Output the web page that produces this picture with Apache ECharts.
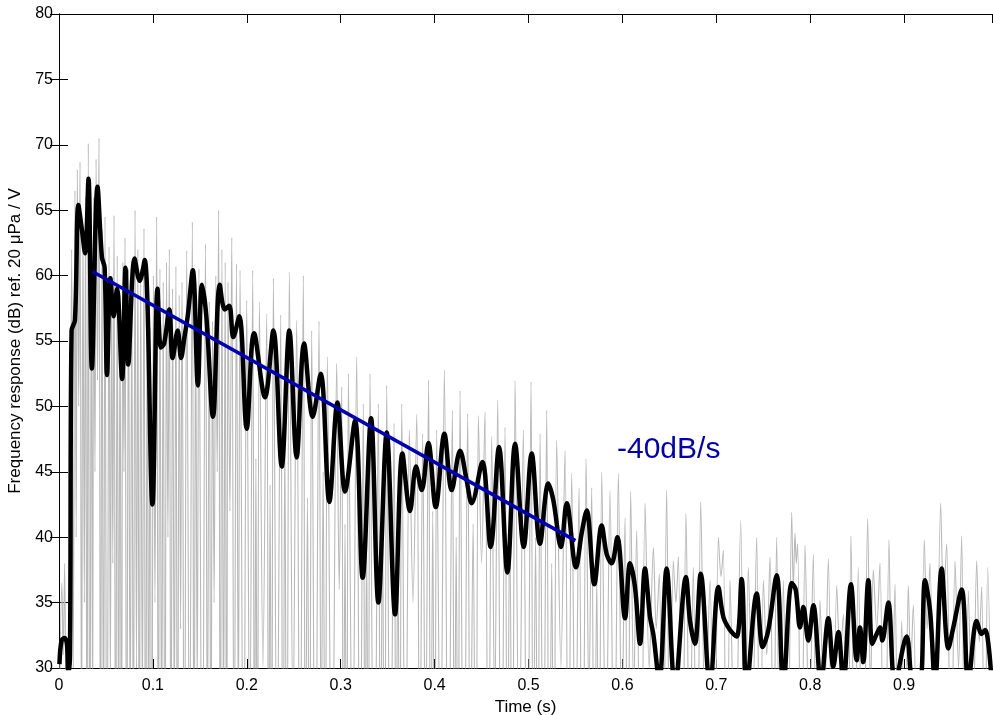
<!DOCTYPE html>
<html>
<head>
<meta charset="utf-8">
<title>Decay of frequency response</title>
<script src="https://cdn.jsdelivr.net/npm/echarts@6/dist/echarts.min.js"></script>
<style>
  html, body { margin: 0; padding: 0; background: #ffffff; }
  #chart { width: 993px; height: 715px; }
</style>
</head>
<body>
<div id="chart"></div>
<script>
// Raw (unsmoothed) response level over time, in dB
const grayTime = [
  0.000, 0.003, 0.0045, 0.006, 0.0085, 0.0105, 0.0135, 0.0152, 0.017, 0.0183,
  0.0195, 0.021, 0.0224, 0.024, 0.0255, 0.027, 0.0283, 0.0298, 0.0312, 0.0328,
  0.0345, 0.0358, 0.037, 0.0383, 0.0395, 0.041, 0.0426, 0.0442, 0.0458, 0.0474,
  0.049, 0.051, 0.0533, 0.0547, 0.056, 0.0573, 0.0586, 0.0603, 0.062, 0.0635,
  0.065, 0.0665, 0.068, 0.0692, 0.0703, 0.072, 0.074, 0.0758, 0.0775, 0.0792,
  0.081, 0.0825, 0.084, 0.0855, 0.087, 0.0888, 0.0905, 0.0922, 0.094, 0.0955,
  0.097, 0.0988, 0.1005, 0.1022, 0.104, 0.1058, 0.1075, 0.1093, 0.111, 0.1128,
  0.1145, 0.116, 0.1175, 0.1192, 0.121, 0.1228, 0.1245, 0.1262, 0.128, 0.1295,
  0.131, 0.1335, 0.136, 0.139, 0.142, 0.1438, 0.1455, 0.1472, 0.149, 0.1525,
  0.156, 0.158, 0.160, 0.1618, 0.1635, 0.1652, 0.167, 0.1685, 0.170, 0.1718,
  0.1735, 0.1752, 0.177, 0.1785, 0.180, 0.182, 0.184, 0.1865, 0.189, 0.191,
  0.1928, 0.1965, 0.1999, 0.2031,
  0.2063, 0.2082, 0.2097, 0.2112, 0.2134, 0.2172, 0.2212, 0.2232, 0.2248, 0.2264,
  0.2283, 0.2322, 0.2361, 0.2385, 0.2405, 0.2425, 0.2453, 0.2492, 0.2531, 0.2566,
  0.2602, 0.2624, 0.2646, 0.2668, 0.2691, 0.2730, 0.2769, 0.2792, 0.2813, 0.2835,
  0.2858, 0.2907, 0.2957, 0.2984, 0.3011, 0.3028, 0.3046, 0.3064, 0.3082, 0.3126,
  0.317, 0.3205, 0.3241, 0.3258, 0.3276, 0.3294, 0.3312, 0.3356, 0.3401, 0.3423,
  0.3445, 0.3467, 0.349, 0.3529, 0.3568, 0.3589, 0.3609, 0.3629, 0.365, 0.369,
  0.3731, 0.377, 0.381, 0.3842, 0.3873, 0.3903,
  0.3936, 0.3958, 0.398, 0.4001, 0.4022, 0.4063, 0.4104, 0.4146, 0.4189, 0.421,
  0.423, 0.425, 0.4271, 0.4311, 0.4352, 0.438, 0.441, 0.444, 0.4466, 0.450,
  0.4537, 0.4572, 0.4608, 0.464, 0.4672, 0.471, 0.4750, 0.4775, 0.480, 0.4828,
  0.4857, 0.490, 0.4945, 0.4986, 0.5027, 0.505, 0.5075, 0.510, 0.5123, 0.5158,
  0.5194, 0.522, 0.5247, 0.527, 0.5300, 0.5345, 0.5389, 0.5425, 0.5460, 0.550,
  0.5538, 0.5575, 0.5613, 0.5643, 0.5673, 0.570, 0.5727, 0.575, 0.5780, 0.5824,
  0.5868, 0.5912,
  0.5957, 0.5993, 0.6028, 0.6058, 0.6088, 0.612, 0.6152, 0.6196, 0.6241, 0.6285,
  0.633, 0.636, 0.6393, 0.643, 0.6471, 0.6506, 0.6542, 0.657, 0.6596, 0.6636,
  0.6677, 0.6716, 0.6755, 0.6795, 0.6834, 0.6883, 0.6933, 0.6978, 0.7022, 0.705,
  0.7075, 0.711, 0.7146, 0.720, 0.7260, 0.730, 0.7341, 0.7385, 0.743, 0.7466,
  0.7501, 0.7537, 0.7572, 0.7608, 0.7643, 0.7678, 0.7714, 0.7758, 0.7803, 0.782,
  0.7838, 0.7852, 0.7866, 0.7905, 0.7945, 0.799, 0.8033, 0.807, 0.8104, 0.815,
  0.8193, 0.8238, 0.8282, 0.8318, 0.8353, 0.8395, 0.8434, 0.8473, 0.8512, 0.8562,
  0.8612, 0.8642, 0.8672, 0.8708, 0.8743, 0.879, 0.8839, 0.8871, 0.8903, 0.894,
  0.8974, 0.901, 0.9045, 0.907, 0.9098, 0.9156, 0.9215, 0.9245, 0.9276, 0.933,
  0.9389, 0.942, 0.9453, 0.950, 0.9542, 0.958, 0.9613, 0.965, 0.9684, 0.973,
  0.9773, 0.980, 0.9826, 0.9858, 0.989, 0.9936
];
const grayLevel = [
  24, 36.5, 31, 38, 18, 20, 62, 30, 66.5, 40,
  68.1, 50, 68.7, 22, 64, 35, 66, 18, 70.1, 15,
  62.5, 25, 66, 45, 68.9, 52, 70.5, 16, 63.5, 20,
  64.5, 12, 62.2, 28, 60, 38, 64.6, 14, 61.5, 22,
  58.5, 17, 61, 45, 62.9, 15, 60.5, 24, 59, 20,
  65, 30, 62, 13, 60.5, 26, 63.6, 15, 58.5, 20,
  56, 10, 60, 35, 64.5, 18, 60.5, 22, 59.5, 14,
  61, 40, 62, 17, 59, 25, 60.7, 12, 58.5, 33,
  59.5, 16, 61.9, 20, 64.1, 15, 58.5, 28, 60.5, 14,
  62.4, 22, 58, 18, 56.5, 35, 60, 45, 65, 16,
  62, 24, 61, 13, 59.5, 42, 62.9, 18, 60.9, 25,
  60.4, 15, 58.1, 22,
  60.4, 18, 46, 15, 58.0, 30, 57.1, 16, 44, 12,
  59.8, 20, 57.0, 14, 48, 11, 60.3, 25, 56.6, 16,
  60.0, 18, 43, 15, 55.8, 13, 56.5, 22, 45, 14,
  53.8, 15, 53.3, 36, 51.5, 14, 41, 12, 52.5, 20,
  53.8, 16, 50.2, 19, 40, 14, 52.5, 11, 50.2, 17,
  42, 13, 51.6, 14, 48.7, 20, 39, 15, 50.2, 17,
  48.2, 35, 49.4, 19, 47.9, 22,
  52.0, 15, 42, 13, 48.2, 20, 52.8, 14, 49.7, 19,
  40, 13, 51.2, 12, 49.45, 18, 41, 14, 49.3, 38,
  49.6, 15, 47.7, 26, 50.5, 13, 48.4, 17, 42, 14,
  52.0, 21, 48.2, 12, 51.9, 18, 40, 15, 47.9, 17,
  49.7, 13, 38, 16, 47.4, 30, 46.6, 16, 44.9, 20,
  43.8, 13, 46.0, 27, 43.8, 15, 37, 14, 45.0, 22,
  43.6, 18,
  44.9, 24, 41.5, 15, 43.5, 28, 40.5, 12, 42.6, 30,
  39.2, 33, 37.2, 14, 43.6, 20, 38.2, 35, 38.5, 16,
  41.8, 22, 37.7, 13, 42.7, 25, 36.7, 18, 40.0, 37,
  39.0, 14, 36.7, 21, 41.3, 17, 37.7, 26, 40.0, 15,
  36.7, 31, 38.5, 22, 40.0, 13, 36.7, 19, 41.9, 36,
  40.3, 38, 39.5, 18, 39.4, 24, 38.7, 14, 35.2, 27,
  38.35, 16, 36.3, 31, 34.1, 12, 40.1, 20, 37.7, 15,
  41.4, 28, 37.5, 33, 38.0, 14, 39.8, 25, 36.4, 18,
  33.6, 22, 36.3, 30, 34.8, 13, 39.8, 33, 38.0, 17,
  42.6, 35, 39.5, 20, 38.2, 30, 40.1, 14, 35.9, 23,
  38.2, 32, 36.2, 19, 37.7, 22
];

// Smoothed response level over time, in dB
const smoothTime = [
  0.0005, 0.0027, 0.006, 0.0085, 0.0099, 0.0117, 0.0134, 0.017, 0.0206, 0.0242,
  0.0278, 0.0314, 0.035, 0.041, 0.0457, 0.0486, 0.0511, 0.0547, 0.0583, 0.0618,
  0.0672, 0.0708, 0.0737, 0.0805, 0.0859, 0.0913, 0.0995, 0.1049, 0.1085, 0.112,
  0.1174, 0.121, 0.1264, 0.13, 0.1336, 0.1371, 0.1425, 0.1479, 0.1522, 0.1569,
  0.164, 0.1712, 0.1766, 0.1813, 0.1856, 0.192, 0.1999, 0.2077, 0.2194, 0.2283,
  0.2372, 0.2453, 0.2531, 0.261, 0.2702, 0.2787, 0.2879, 0.2965, 0.3046, 0.3153,
  0.3234, 0.3323, 0.3401, 0.349, 0.3579, 0.3657, 0.3738, 0.3802, 0.3863, 0.3934,
  0.4012, 0.4104, 0.4182, 0.4271, 0.434, 0.4395, 0.4509, 0.4597, 0.4686, 0.4775,
  0.4857, 0.4949, 0.5034, 0.5122, 0.5211, 0.5265, 0.5346, 0.5407, 0.5506, 0.5566,
  0.562, 0.5701, 0.5779, 0.5833, 0.5886, 0.5946, 0.6028, 0.6081, 0.6134, 0.6188,
  0.624, 0.6294, 0.6329, 0.6393, 0.6471, 0.656, 0.6677, 0.672, 0.6773, 0.6834,
  0.6933, 0.7022, 0.7075, 0.7146, 0.7217, 0.727, 0.7323, 0.743, 0.7494, 0.7554,
  0.7643, 0.7714, 0.7803, 0.7845, 0.7891, 0.7927, 0.798, 0.8033, 0.8115, 0.8193,
  0.8246, 0.83, 0.8353, 0.8434, 0.8495, 0.853, 0.8565, 0.8619, 0.8661, 0.8708,
  0.8743, 0.8768, 0.8832, 0.8903, 0.9027, 0.9098, 0.9169, 0.9222, 0.9276, 0.9329,
  0.94, 0.9471, 0.9524, 0.9613, 0.9684, 0.9773, 0.9826, 0.9862, 0.9897, 0.9932
];
const smoothLevel = [
  30.3, 32.1, 32.3, 31.8, 29.6, 31, 55.8, 56.6, 65.4, 63.6,
  61.7, 67.4, 52.9, 66.8, 61.4, 60.6, 52.4, 59.8, 56.9, 59.0,
  52.1, 60.6, 53.2, 61.3, 59.6, 61.2, 42.5, 59.0, 54.5, 54.8,
  57.4, 53.7, 55.8, 53.7, 55.3, 56.9, 60.4, 51.6, 59.3, 56.9,
  49.2, 59.3, 57.4, 57.7, 55.3, 56.9, 48.3, 55.6, 50.7, 55.8,
  45.4, 55.8, 46.1, 54.8, 49.2, 52.5, 42.7, 50.3, 43.5, 48.9,
  36.9, 49.1, 35.0, 48.0, 34.1, 46.4, 42.0, 45.4, 43.6, 47.2,
  42.3, 47.9, 43.6, 46.6, 44.4, 42.6, 45.75, 39.25, 46.9, 37.3,
  47.15, 39.25, 46.4, 39.5, 44.1, 42.8, 39.25, 42.6, 37.7, 40.3,
  42.05, 36.4, 40.9, 38.7, 38.0, 40.0, 33.8, 38.0, 36.2, 31.85,
  37.6, 33.9, 32.6, 29.0, 37.6, 28.5, 36.95, 33.6, 31.85, 37.2,
  28.5, 36.2, 33.9, 32.9, 32.4, 36.8, 28.5, 35.7, 31.6, 32.9,
  37.1, 28.5, 36.5, 36.0, 33.1, 34.66, 32.1, 34.8, 28.8, 33.8,
  30.1, 32.75, 28.8, 36.4, 30.6, 33.1, 30.45, 36.7, 31.85, 32.6,
  33.1, 32.1, 35.0, 28.8, 32.4, 28.8, 28.8, 36.7, 34.4, 28.8,
  37.6, 31.5, 33.1, 36.0, 28.8, 33.6, 32.6, 32.9, 31.85, 29.0
];

// Linear decay fit: -40 dB per second
const fitTime = [0.036, 0.55];
const fitLevel = [60.3, 39.74];
const fitLabel = '-40dB/s';

// Axis settings
const xTicks = { min: 0, max: 0.9936, step: 0.1 };
const yTicks = { min: 30, max: 80, step: 5 };
const xTitle = 'Time (s)';
const yTitle = 'Frequency response (dB) ref. 20 \u03bcPa / V';

const zip = (ts, vs) => ts.map((t, i) => [t, vs[i]]);

const FONT = 'Liberation Sans, Arial, Helvetica, sans-serif';
const BLUE = '#0000b8';

const chart = echarts.init(document.getElementById('chart'), null, { renderer: 'canvas' });

const tickStyle = { show: true, inside: true, length: 9, lineStyle: { color: '#000', width: 1 } };
const lineStyle = { show: true, lineStyle: { color: '#000', width: 1 } };

chart.setOption({
  animation: false,
  backgroundColor: '#ffffff',
  grid: {
    left: 59, right: 1, top: 14, bottom: 47,
    containLabel: false, outerBoundsMode: 'none'
  },
  xAxis: [
    {
      type: 'value', position: 'bottom',
      min: xTicks.min, max: xTicks.max, interval: xTicks.step,
      axisLine: lineStyle, axisTick: tickStyle, splitLine: { show: false },
      axisLabel: {
        color: '#000', fontFamily: FONT, fontSize: 16, margin: 10,
        showMaxLabel: false,
        formatter: v => (Math.abs(v * 10 - Math.round(v * 10)) < 1e-6 ? String(Math.round(v * 10) / 10) : '')
      },
      name: xTitle, nameLocation: 'middle', nameGap: 26,
      nameTextStyle: { color: '#000', fontFamily: FONT, fontSize: 17 }
    },
    {
      type: 'value', position: 'top',
      min: xTicks.min, max: xTicks.max, interval: xTicks.step,
      axisLine: lineStyle, axisTick: tickStyle, axisLabel: { show: false }, splitLine: { show: false }
    }
  ],
  yAxis: [
    {
      type: 'value', position: 'left',
      min: yTicks.min, max: yTicks.max, interval: yTicks.step,
      axisLine: lineStyle, axisTick: tickStyle, splitLine: { show: false },
      axisLabel: { color: '#000', fontFamily: FONT, fontSize: 16, margin: 6 },
      name: yTitle, nameLocation: 'middle', nameGap: 29,
      nameTextStyle: { color: '#000', fontFamily: FONT, fontSize: 17 }
    },
    {
      type: 'value', position: 'right',
      min: yTicks.min, max: yTicks.max, interval: yTicks.step,
      axisLine: lineStyle, axisTick: tickStyle, axisLabel: { show: false }, splitLine: { show: false }
    }
  ],
  series: [
    {
      name: 'raw', type: 'line', data: zip(grayTime, grayLevel),
      showSymbol: false, smooth: 0.3, clip: true,
      lineStyle: { color: '#b8b8b8', width: 1.1 }, z: 1
    },
    {
      name: 'smoothed', type: 'line', data: zip(smoothTime, smoothLevel),
      showSymbol: false, smooth: 0.35, clip: true,
      lineStyle: { color: '#000000', width: 4.5 }, z: 2
    },
    {
      name: 'fit', type: 'line', data: zip(fitTime, fitLevel),
      showSymbol: false, clip: true,
      lineStyle: { color: BLUE, width: 3.5 }, z: 3
    }
  ],
  graphic: [
    {
      type: 'text', left: 617, top: 435, z: 10,
      style: { text: fitLabel, fill: BLUE, font: '30px ' + FONT }
    }
  ]
});
</script>
</body>
</html>
